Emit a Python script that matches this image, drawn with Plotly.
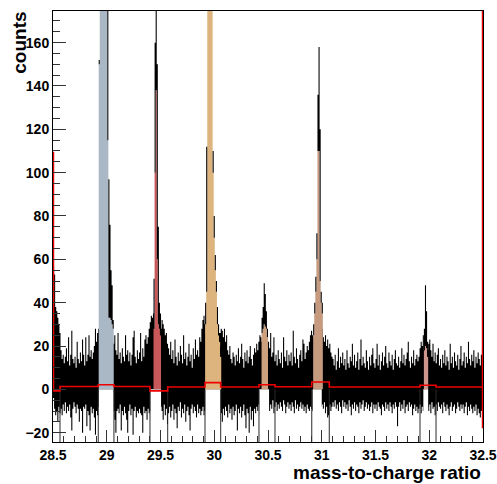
import plotly.graph_objects as go

# ---------------- data ----------------
BIN_START = 28.5
BIN_WIDTH = 0.01

# per-bin upper / lower envelope of the (very finely binned) spectrum noise
noise_upper = [
    57, 53, 38, 36, 33, 30, 26, 18, 14, 16,
    12, 15, 19, 13, 24, 11, 16, 27, 14, 12,
    15, 10, 22, 14, 12, 17, 13, 23, 16, 11,
    24, 13, 16, 25, 15, 18, 14, 17, 20, 28,
    22, 26, 28, 22, 22, 22, 22, 22, 22, 22,
    22, 22, 22, 22, 22, 22, 21, 25, 18, 16,
    26, 14, 17, 12, 19, 15, 13, 25, 16, 18,
    13, 17, 11, 16, 24, 27, 15, 12, 18, 14,
    17, 26, 13, 19, 15, 23, 25, 21, 24, 28,
    31, 34, 33, 35, 28, 28, 28, 28, 28, 28,
    28, 32, 30, 28, 25, 26, 21, 19, 16, 22,
    14, 18, 12, 23, 15, 11, 17, 13, 20, 16,
    12, 25, 14, 17, 11, 15, 21, 13, 16, 10,
    19, 14, 23, 16, 18, 15, 24, 22, 28, 32,
    34, 30, 26, 26, 26, 26, 26, 26, 26, 26,
    26, 26, 26, 26, 26, 26, 28, 27, 24, 28,
    22, 25, 18, 16, 20, 14, 12, 17, 15, 11,
    16, 13, 19, 12, 15, 21, 14, 10, 17, 13,
    18, 12, 15, 20, 14, 11, 16, 19, 17, 21,
    18, 22, 25, 24, 22, 22, 22, 22, 22, 22,
    22, 19, 26, 15, 17, 24, 13, 16, 11, 18,
    14, 12, 17, 10, 24, 15, 13, 18, 11, 16,
    13, 17, 11, 27, 15, 12, 19, 14, 10, 16,
    18, 13, 23, 21, 14, 17, 20, 18, 22, 25,
    27, 25, 24, 24, 24, 24, 24, 24, 24, 24,
    28, 24, 22, 25, 20, 23, 19, 21, 17, 15,
    14, 11, 16, 9, 13, 19, 10, 15, 12, 17,
    11, 14, 9, 18, 12, 10, 15, 13, 21, 11,
    16, 10, 13, 17, 9, 14, 23, 11, 15, 12,
    10, 18, 13, 9, 15, 11, 16, 19, 12, 10,
    14, 21, 11, 16, 9, 13, 17, 11, 15, 20,
    12, 10, 17, 13, 11, 16, 9, 14, 18, 12,
    11, 15, 10, 13, 19, 12, 16, 11, 14, 17,
    22, 13, 10, 15, 12, 18, 11, 14, 16, 13,
    15, 19, 22, 20, 25, 18, 18, 18, 18, 21,
    23, 18, 15, 21, 13, 17, 12, 16, 19, 11,
    14, 10, 16, 12, 18, 11, 15, 13, 9, 21,
    12, 15, 10, 17, 13, 11, 16, 9, 14, 20,
    11, 13, 17, 10, 15, 12, 22, 14, 11, 16,
    13, 18, 10, 15, 12, 17, 14, 11, 16, 19,
]
noise_lower = [
    -4, -9, -12, -10, -15, -8, -11, -9, -12, -7,
    -10, -6, -11, -8, -10, -7, -13, -19, -9, -6,
    -8, -11, -7, -9, -15, -9, -10, -20, -8, -9,
    -7, -17, -10, -12, -19, -8, -11, -9, -13, -21,
    -10, -12, -8, -8, -8, -8, -8, -8, -8, -8,
    -8, -8, -8, -8, -8, -8, -10, -14, -20, -10,
    -9, -11, -7, -19, -10, -12, -8, -11, -14, -20,
    -10, -7, -12, -9, -21, -10, -8, -13, -10, -11,
    -9, -11, -12, -20, -8, -11, -10, -14, -9, -11,
    -10, -13, -8, -12, -8, -8, -8, -8, -8, -8,
    -8, -10, -14, -7, -12, -9, -16, -11, -8, -13,
    -10, -7, -14, -9, -11, -18, -8, -10, -6, -13,
    -9, -11, -7, -15, -10, -8, -12, -19, -9, -7,
    -11, -8, -10, -13, -7, -11, -9, -12, -10, -8,
    -12, -10, -8, -8, -8, -8, -8, -8, -8, -8,
    -8, -8, -8, -8, -8, -8, -11, -15, -9, -12,
    -8, -10, -13, -7, -11, -9, -14, -8, -12, -10,
    -7, -19, -9, -11, -8, -13, -10, -7, -12, -18,
    -9, -11, -20, -8, -14, -10, -17, -9, -11, -8,
    -10, -7, -12, -9, -8, -8, -8, -8, -8, -8,
    -8, -10, -7, -9, -5, -11, -8, -6, -10, -7,
    -9, -6, -8, -10, -5, -7, -11, -8, -6, -9,
    -7, -10, -6, -8, -11, -5, -9, -7, -10, -8,
    -6, -9, -7, -10, -8, -11, -7, -9, -10, -8,
    -9, -10, -8, -8, -8, -8, -8, -8, -8, -8,
    -7, -9, -6, -11, -8, -13, -12, -7, -10, -8,
    -6, -8, -5, -9, -7, -10, -6, -8, -11, -5,
    -8, -6, -9, -7, -10, -5, -8, -12, -7, -9,
    -6, -10, -7, -8, -11, -6, -9, -7, -5, -10,
    -8, -6, -9, -7, -10, -8, -6, -11, -7, -9,
    -7, -10, -6, -8, -9, -12, -7, -8, -10, -6,
    -9, -7, -10, -6, -8, -11, -7, -9, -6, -8,
    -17, -8, -6, -10, -7, -9, -5, -11, -8, -7,
    -10, -6, -8, -7, -12, -9, -7, -10, -8, -11,
    -9, -7, -11, -8, -10, -8, -8, -8, -8, -10,
    -7, -11, -6, -9, -8, -12, -7, -10, -6, -8,
    -9, -7, -11, -6, -8, -10, -7, -9, -12, -8,
    -6, -10, -8, -7, -11, -9, -6, -8, -10, -7,
    -9, -7, -11, -8, -6, -12, -8, -10, -7, -9,
    -11, -8, -10, -7, -12, -9, -11, -13, -10, -8,
]

# peaks: start of first bin, fill colour, filled height per bin, top of black trace per bin
peak_starts = [28.925, 29.435, 29.915, 30.44, 30.92, 31.95]
peak_colors = ["#a9b8c4", "#c9585a", "#deb47e", "#cda17d", "#c59a7e", "#cc968c"]
peak_fill = [
    [150, 300, 300, 300, 300, 300, 300, 300, 115, 33, 33, 32, 30, 28],
    [28, 100, 138, 60, 30, 28, 25],
    [30, 45, 300, 300, 300, 300, 300, 100, 70, 55, 45, 30, 25, 22, 15],
    [26, 28, 30, 29, 28, 24],
    [25, 35, 45, 60, 110, 110, 50, 40, 35],
    [18, 20, 19, 15],
]
peak_top = [
    [152, 300, 300, 300, 300, 300, 300, 300, 300, 97, 76, 55, 48, 32],
    [51, 160, 300, 150, 75, 40, 35],
    [40, 112, 300, 300, 300, 300, 300, 110, 80, 62, 50, 38, 30, 26, 20],
    [33, 38, 49, 44, 36, 28],
    [30, 40, 52, 72, 136, 158, 120, 45, 40],
    [28, 48, 36, 22],
]
# fit windows where the histogram below zero is not shown
window_lo = [28.925, 29.405, 29.915, 30.418, 30.915, 31.945]
window_hi = [29.065, 29.505, 30.06, 30.51, 31.0, 31.99]

# red fit function (step form)
fit_edges = [28.5, 28.565, 28.921, 29.067, 29.402, 29.567, 29.914, 30.06, 30.416,
             30.565, 30.907, 31.07, 31.914, 32.063, 32.5]
fit_levels = [-0.7, 1.3, 2.1, 1.3, -0.7, 1.1, 3.1, 1.1, 2.1, 1.2, 3.4, 1.1, 1.9, 1.1]
fit_left_top = 109.6
fit_right_low, fit_right_high = -18, 200

Y_MIN, Y_MAX = -24.3, 174.6
X_MIN, X_MAX = 28.5, 32.5


def step_xy(start, vals, width):
    xs = [start + k * width for k in range(len(vals) + 1)]
    ys = list(vals) + [vals[-1]]
    return xs, ys


fig = go.Figure()

# noise band
nx, nu = step_xy(BIN_START, noise_upper, BIN_WIDTH)
_, nl = step_xy(BIN_START, noise_lower, BIN_WIDTH)
fig.add_trace(go.Scatter(x=nx, y=nl, mode="lines", line=dict(width=0, shape="hv", color="black"),
                         hoverinfo="skip"))
fig.add_trace(go.Scatter(x=nx, y=nu, mode="lines", line=dict(width=0, shape="hv", color="black"),
                         fill="tonexty", fillcolor="black", hoverinfo="skip"))

# blank out below zero inside the windows
wx, wy = [], []
for lo, hi in zip(window_lo, window_hi):
    wx += [lo, lo, hi, hi, lo, None]
    wy += [Y_MIN - 10, 0, 0, Y_MIN - 10, Y_MIN - 10, None]
fig.add_trace(go.Scatter(x=wx, y=wy, mode="lines", line=dict(width=0), fill="toself",
                         fillcolor="white", hoverinfo="skip"))

# window edge lines
ex, ey = [], []
for e in fit_edges[1:-1]:
    ex += [e, e, None]
    ey += [Y_MIN - 10, 0, None]
fig.add_trace(go.Scatter(x=ex, y=ey, mode="lines", line=dict(width=1, color="#2a2a2a"),
                         hoverinfo="skip"))

# peaks
for start, col, fl, tp in zip(peak_starts, peak_colors, peak_fill, peak_top):
    px_, pf = step_xy(start, fl, BIN_WIDTH)
    _, pt = step_xy(start, tp, BIN_WIDTH)
    fig.add_trace(go.Scatter(x=px_, y=pf, mode="lines", line=dict(width=0, shape="hv", color=col),
                             fill="tozeroy", fillcolor=col, hoverinfo="skip"))
    fig.add_trace(go.Scatter(x=px_, y=pf, mode="lines", line=dict(width=0, shape="hv", color="black"),
                             hoverinfo="skip"))
    fig.add_trace(go.Scatter(x=px_, y=pt, mode="lines", line=dict(width=0, shape="hv", color="black"),
                             fill="tonexty", fillcolor="black", hoverinfo="skip"))

# red fit
fx = list(fit_edges)
fy = list(fit_levels) + [fit_levels[-1]]
fig.add_trace(go.Scatter(x=fx, y=fy, mode="lines", line=dict(width=1.6, color="#ee0000", shape="hv"),
                         hoverinfo="skip"))
fig.add_trace(go.Scatter(x=[X_MIN + 0.004, X_MIN + 0.004], y=[fit_levels[0], fit_left_top], mode="lines",
                         line=dict(width=1.6, color="#ee0000"), hoverinfo="skip"))
fig.add_trace(go.Scatter(x=[X_MAX - 0.004, X_MAX - 0.004], y=[fit_right_low, fit_right_high], mode="lines",
                         line=dict(width=1.6, color="#ee0000"), hoverinfo="skip"))

tickfont = dict(family="Liberation Sans, Arial, sans-serif", size=14, color="black", weight="bold")
fig.update_layout(
    width=497, height=484,
    margin=dict(l=53, r=14, t=11, b=42),
    plot_bgcolor="white", paper_bgcolor="white",
    showlegend=False,
)
fig.update_xaxes(
    range=[X_MIN, X_MAX], tick0=28.5, dtick=0.5, ticks="inside", ticklen=12, tickwidth=1,
    tickcolor="#333", showgrid=False, zeroline=False, showline=True, linecolor="black",
    linewidth=1, mirror=True, tickfont=tickfont, automargin=False, ticklabeloverflow="allow",
    minor=dict(dtick=0.1, ticklen=6, ticks="inside", tickcolor="#333", showgrid=False),
)
fig.update_yaxes(
    range=[Y_MIN, Y_MAX], tick0=0, dtick=20, ticks="inside", ticklen=13, tickwidth=1,
    tickcolor="#333", showgrid=False, zeroline=False, showline=True, linecolor="black",
    linewidth=1, mirror=True, tickfont=tickfont, automargin=False,
    minor=dict(dtick=5, ticklen=7, ticks="inside", tickcolor="#333", showgrid=False),
)
titlefont = dict(family="Liberation Sans, Arial, sans-serif", size=19, color="black", weight="bold")
fig.add_annotation(text="counts", xref="paper", yref="paper", x=-0.078, y=1.004,
                   xanchor="center", yanchor="top", textangle=-90, showarrow=False, font=titlefont)
fig.add_annotation(text="mass-to-charge ratio", xref="paper", yref="paper", x=1.0, y=-0.07,
                   xanchor="right", yanchor="middle", showarrow=False, font=titlefont)

# remove the default page margin so the figure fills the 497x484 window exactly
fig.write_html("out.html",
               config={"displayModeBar": False},
               post_script="document.body.style.margin='0';document.body.style.overflow='hidden';")
